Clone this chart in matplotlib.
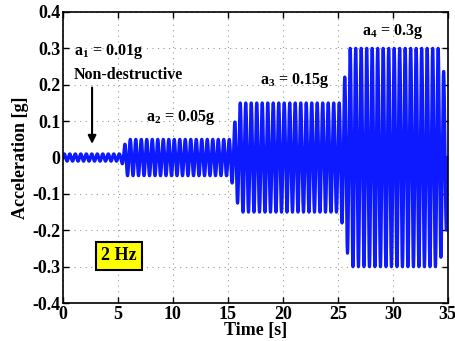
import numpy as np
import matplotlib
matplotlib.use("Agg")
import matplotlib.pyplot as plt

# Data: 2 Hz sine excitation with stepped amplitude envelope
freq_hz = 2.0
env_time = [0.0, 5.3, 5.8, 15.2, 16.1, 25.2, 26.1, 34.2, 35.0]
env_amp = [0.01, 0.01, 0.05, 0.05, 0.15, 0.15, 0.30, 0.30, 0.18]
xticks = [0, 5, 10, 15, 20, 25, 30, 35]
yticks = [-0.4, -0.3, -0.2, -0.1, 0, 0.1, 0.2, 0.3, 0.4]

t = np.linspace(0, 35, 20001)
env = np.interp(t, env_time, env_amp)
acc = env * np.sin(2 * np.pi * freq_hz * t)

plt.rcParams['font.family'] = ['Liberation Serif', 'DejaVu Serif']
plt.rcParams['mathtext.fontset'] = 'custom'
plt.rcParams['mathtext.rm'] = 'Liberation Serif'
plt.rcParams['mathtext.it'] = 'Liberation Serif:italic'
plt.rcParams['mathtext.bf'] = 'Liberation Serif:bold'

fig = plt.figure(figsize=(4.56, 3.41), dpi=100)
ax = fig.add_axes([0.138, 0.111, 0.844, 0.854])
ax.plot(t, acc, color=(0.05, 0.1, 1.0), lw=2.3)
ax.set_xlim(0, 35)
ax.set_ylim(-0.4, 0.4)
ax.set_xticks(xticks)
ax.set_yticks(yticks)
ax.set_xticklabels([str(v) for v in xticks], fontsize=13, fontweight='bold')
ax.set_yticklabels(['%g' % v for v in yticks], fontsize=13, fontweight='bold')
ax.tick_params(direction='in', top=True, right=True, length=4, width=1, pad=2)
ax.grid(True, ls=(0, (1, 4)), color='#999999', lw=0.8)
for s in ax.spines.values():
    s.set_linewidth(1.2)
ax.set_xlabel('Time [s]', fontsize=13, fontweight='bold', labelpad=-1)
ax.set_ylabel('Acceleration [g]', fontsize=13, fontweight='bold', labelpad=2)

kw = dict(fontsize=11.5, fontweight='bold', ha='left', va='center')
ax.text(1.0, 0.29, r'$\mathbf{a_1}$ = 0.01g', **kw)
ax.text(1.0, 0.228, 'Non-destructive', **kw)
ax.text(7.6, 0.11, r'$\mathbf{a_2}$ = 0.05g', **kw)
ax.text(17.9, 0.212, r'$\mathbf{a_3}$ = 0.15g', **kw)
ax.text(27.2, 0.345, r'$\mathbf{a_4}$ = 0.3g', **kw)
ax.annotate('', xy=(2.65, 0.03), xytext=(2.65, 0.2),
            arrowprops=dict(arrowstyle='-|>', color='black', lw=1.5,
                            mutation_scale=12))
ax.text(5.1, -0.27, '2 Hz', fontsize=13, fontweight='bold', ha='center', va='center',
        bbox=dict(boxstyle='square,pad=0.3', fc='#ffff00', ec='black', lw=1.5))

fig.savefig('out.png', dpi=100)
